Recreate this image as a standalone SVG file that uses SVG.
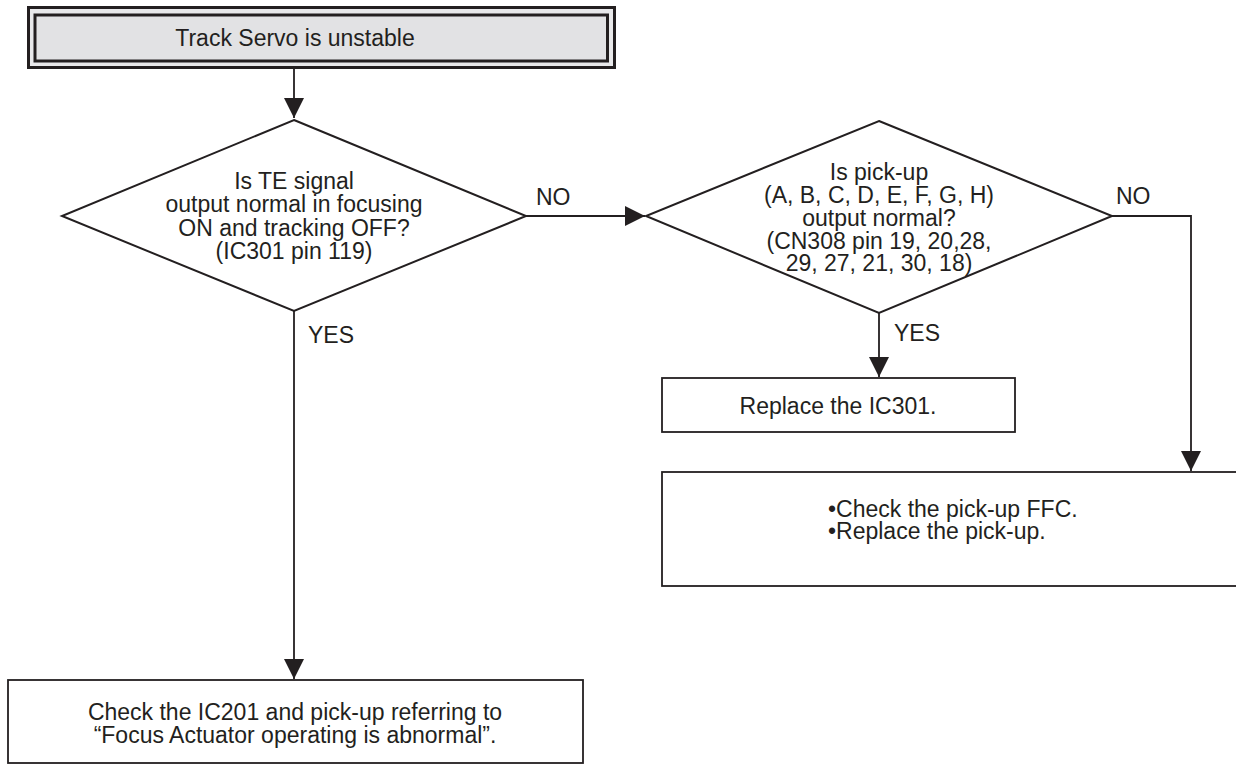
<svg xmlns="http://www.w3.org/2000/svg" width="1236" height="766" viewBox="0 0 1236 766">
<style>
text{font-family:"Liberation Sans",Arial,sans-serif;font-size:23px;fill:#231f20}
.c{text-anchor:middle}
.box{fill:#fff;stroke:#231f20;stroke-width:1.8}
.dia{fill:#fff;stroke:#231f20;stroke-width:2}
.con{fill:none;stroke:#231f20;stroke-width:1.8}
</style>
<defs>
<marker id="ah" markerUnits="userSpaceOnUse" markerWidth="20" markerHeight="20" refX="20" refY="10" orient="auto">
<path d="M0,0 L20,10 L0,20 Z" fill="#231f20"/>
</marker>
</defs>
<rect width="1236" height="766" fill="#fff"/>
<g id="start">
<rect x="28.5" y="7.5" width="586" height="60" fill="#e8e8ea" stroke="#231f20" stroke-width="3"/>
<rect x="35" y="15" width="572.5" height="46" fill="#e2e2e4" stroke="#231f20" stroke-width="3"/>
<text class="c" x="295" y="46">Track Servo is unstable</text>
</g>
<g id="q1">
<polygon class="dia" points="294,120 526,216 294,311 62,216"/>
<text class="c" x="294" y="189">Is TE signal</text>
<text class="c" x="294" y="212">output normal in focusing</text>
<text class="c" x="294" y="236">ON and tracking OFF?</text>
<text class="c" x="294" y="259">(IC301 pin 119)</text>
</g>
<g id="q2">
<polygon class="dia" points="879,121 1112,216 879,313 646,216"/>
<text class="c" x="879" y="180">Is pick-up</text>
<text class="c" x="879" y="203">(A, B, C, D, E, F, G, H)</text>
<text class="c" x="879" y="226">output normal?</text>
<text class="c" x="879" y="249">(CN308 pin 19, 20,28,</text>
<text class="c" x="879" y="271">29, 27, 21, 30, 18)</text>
</g>
<g id="replace_ic301">
<rect class="box" x="662" y="378" width="353" height="54"/>
<text class="c" x="838" y="414">Replace the IC301.</text>
</g>
<g id="check_ffc">
<rect class="box" x="662" y="472" width="590" height="114"/>
<text x="828" y="517">•Check the pick-up FFC.</text>
<text x="828" y="539">•Replace the pick-up.</text>
</g>
<g id="check_ic201">
<rect class="box" x="8" y="680" width="575" height="83"/>
<text class="c" x="295" y="720">Check the IC201 and pick-up referring to</text>
<text class="c" x="295" y="743">“Focus Actuator operating is abnormal”.</text>
</g>
<g id="connectors">
<path class="con" d="M294,69 V118" marker-end="url(#ah)"/>
<path class="con" d="M526,216 H645" marker-end="url(#ah)"/>
<path class="con" d="M294,311 V679" marker-end="url(#ah)"/>
<path class="con" d="M879,313 V377" marker-end="url(#ah)"/>
<path class="con" d="M1112,216 H1191 V471" marker-end="url(#ah)"/>
<text x="536" y="205">NO</text>
<text x="1116" y="204">NO</text>
<text x="308" y="343">YES</text>
<text x="894" y="341">YES</text>
</g>
</svg>
